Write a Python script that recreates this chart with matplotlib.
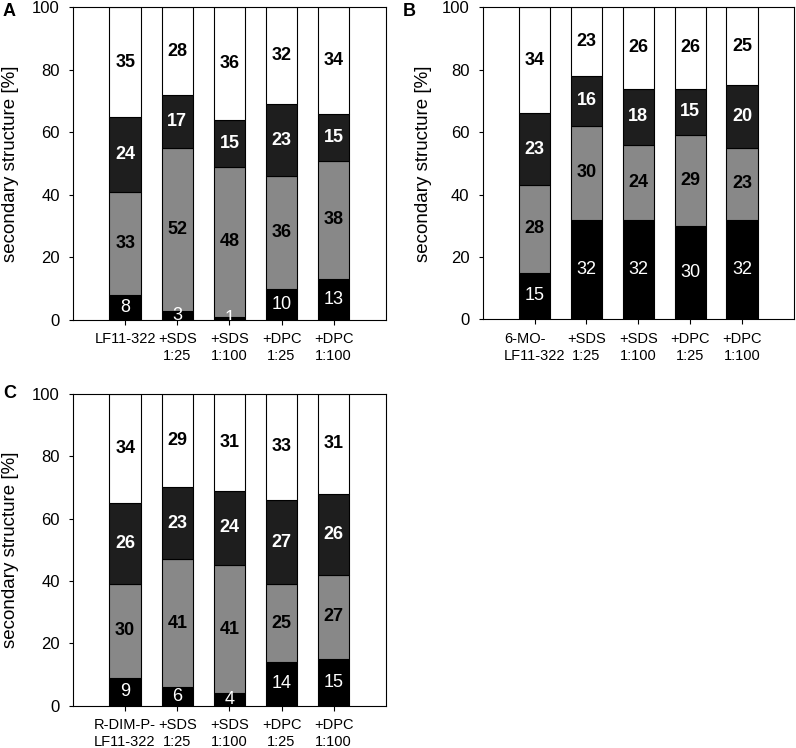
"""Secondary structure composition of LF11-322 and its derivatives (stacked bars)."""

import numpy as np
import matplotlib.pyplot as plt

plt.rcParams["font.family"] = ["Liberation Sans", "DejaVu Sans"]

# Panel A: LF11-322
labels_a = ["LF11-322", "+SDS\n1:25", "+SDS\n1:100", "+DPC\n1:25", "+DPC\n1:100"]
helix_a = [8, 3, 1, 10, 13]
sheet_a = [33, 52, 48, 36, 38]
turn_a = [24, 17, 15, 23, 15]
coil_a = [35, 28, 36, 32, 34]

# Panel B: 6-MO-LF11-322
labels_b = ["6-MO-\nLF11-322", "+SDS\n1:25", "+SDS\n1:100", "+DPC\n1:25", "+DPC\n1:100"]
helix_b = [15, 32, 32, 30, 32]
sheet_b = [28, 30, 24, 29, 23]
turn_b = [23, 16, 18, 15, 20]
coil_b = [34, 23, 26, 26, 25]

# Panel C: R-DIM-P-LF11-322
labels_c = ["R-DIM-P-\nLF11-322", "+SDS\n1:25", "+SDS\n1:100", "+DPC\n1:25", "+DPC\n1:100"]
helix_c = [9, 6, 4, 14, 15]
sheet_c = [30, 41, 41, 25, 27]
turn_c = [26, 23, 24, 27, 26]
coil_c = [34, 29, 31, 33, 31]

COLORS = ["#000000", "#888888", "#1e1e1e", "#ffffff"]
TEXT_COLORS = ["white", "black", "white", "black"]
WEIGHTS = ["normal", "bold", "bold", "bold"]


def draw_panel(ax, labels, helix, sheet, turn, coil, letter, letter_x, letter_y, ylab_x):
    x = np.arange(1, len(labels) + 1)
    bottom = np.zeros(len(labels))
    segments = [helix, sheet, turn, coil]
    for i, (vals, color) in enumerate(zip(segments, COLORS)):
        vals = np.asarray(vals, dtype=float)
        # top segment fills up to 100 (rounded values don't always sum to 100)
        heights = 100 - bottom if i == len(segments) - 1 else vals
        ax.bar(x, heights, bottom=bottom, width=0.6, color=color,
               edgecolor="black", linewidth=0.8, zorder=2)
        for xi, b, h, v in zip(x, bottom, heights, vals):
            ax.text(xi, b + h / 2, f"{int(v)}", ha="center", va="center",
                    color=TEXT_COLORS[i], fontsize=13, fontweight=WEIGHTS[i],
                    clip_on=True, zorder=3)
        bottom = bottom + heights

    ax.set_xlim(0, 6)
    ax.set_ylim(0, 100)
    ax.set_yticks([0, 20, 40, 60, 80, 100])
    ax.set_xticks(x)
    ax.set_xticklabels(labels, fontsize=10.5, linespacing=1.25)
    ax.get_xticklabels()[0].set_multialignment("left")
    ax.tick_params(axis="y", direction="out", length=3, width=0.8, pad=6.5, labelsize=12)
    ax.tick_params(axis="x", direction="out", length=3.5, width=0.8, pad=5.5)
    for sp in ax.spines.values():
        sp.set_linewidth(0.8)
    ax.set_ylabel("secondary structure [%]", fontsize=13.5)
    ax.yaxis.set_label_coords(ylab_x, 0.5)
    ax.text(letter_x, letter_y, letter, transform=ax.transAxes, ha="left",
            va="center", fontsize=13, fontweight="bold")


fig = plt.figure(figsize=(7.96, 7.48), dpi=100)
ax_a = fig.add_axes([0.0917, 0.5722, 0.393, 0.418])
ax_b = fig.add_axes([0.6064, 0.5731, 0.391, 0.417])
ax_c = fig.add_axes([0.0917, 0.0566, 0.393, 0.4167])

draw_panel(ax_a, labels_a, helix_a, sheet_a, turn_a, coil_a, "A", -0.224, 0.988, -0.172)
draw_panel(ax_b, labels_b, helix_b, sheet_b, turn_b, coil_b, "B", -0.256, 0.988, -0.163)
draw_panel(ax_c, labels_c, helix_c, sheet_c, turn_c, coil_c, "C", -0.224, 1.0, -0.172)

fig.savefig("out.png", dpi=100)
plt.close(fig)
